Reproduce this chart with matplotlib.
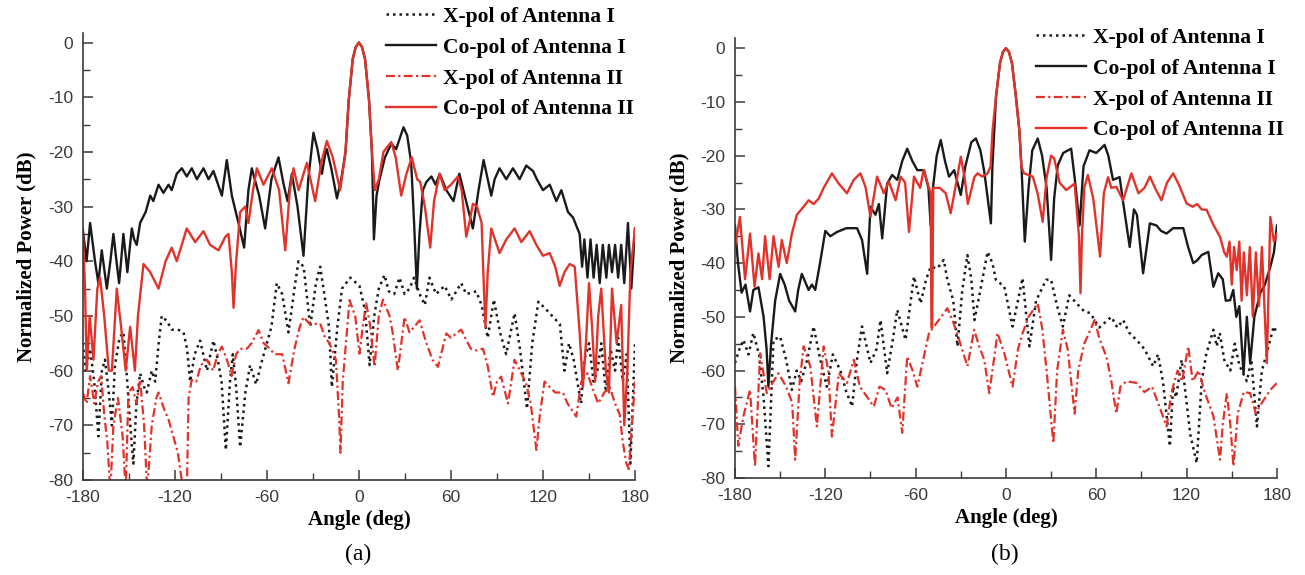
import numpy as np
import matplotlib
matplotlib.use("Agg")
import matplotlib.pyplot as plt
from matplotlib.ticker import MultipleLocator

plt.rcParams["axes.unicode_minus"] = False

# ---------------- data: panel (a) ----------------
a_co1_ang = [-180,-177.5,-175.2,-172,-169.8,-167.6,-164.3,-162,-160,-158,-156.3,-155,-153.5,-152,-150.9,-149.5,-148,-146.5,-144.8,-142.6,-139,-136,-134,-130.6,-127.4,-124.1,-122,-118.7,-115.4,-112.2,-108.9,-105.6,-101.3,-98,-94.8,-89.3,-86.1,-82.8,-78.5,-74.8,-72,-69.8,-65,-61.1,-57,-52.4,-49,-46.5,-43.7,-40,-36.1,-33,-29.6,-27,-24.1,-22,-20.9,-18,-14.3,-11.5,-8.7,-6.6,-4,-2,0,2,4,6.6,8.5,9.8,11.5,13.5,17,21.1,24.3,29.1,31.5,34.1,36,37.8,39.5,41.7,44,47.3,50,52.7,57,61.7,65.5,69,74.3,78,81.3,86.3,88.5,91.7,96.1,100.4,104.8,109.1,113.5,116,120,124.4,128.7,132,136.3,139.6,143.9,145.5,147,149,151,153,155,157,159,161.3,163,165,167,169,171,173,175.4,177.6,180]
a_co1_db = [-34,-40,-33,-40,-44,-38,-45,-40,-35,-40,-44,-40,-35,-39,-42,-38,-34,-36,-37,-33,-31,-28,-29,-26,-27.5,-26,-27,-24,-23,-24.5,-23,-25,-23,-25,-23.5,-28,-21.5,-28,-33,-37.5,-27,-23,-28,-34,-25,-21,-26,-29,-24,-30,-39,-25,-16.5,-19.5,-24,-20.5,-19.5,-23,-28.5,-25,-20,-10.5,-3,-0.8,0,-0.8,-3,-10.5,-20,-36,-28,-25,-21,-18.5,-19.5,-15.5,-17,-22,-33,-45,-35,-27,-25.5,-24.5,-26,-24,-27,-29,-24,-28,-34,-27,-21.5,-28,-25,-23,-25,-23,-25,-22.5,-23.5,-25,-27,-26,-29,-27,-31,-32,-35,-41,-36,-43,-36,-43,-37,-44,-37,-43,-37,-42,-37,-43,-37,-44,-33,-45,-34]

a_co2_ang = [-180,-178.5,-177.4,-175.5,-173,-170.5,-168.7,-166,-163,-161,-157.8,-155,-152,-149.1,-146,-144,-140.4,-136,-130.6,-126,-122,-118.7,-112.2,-106.7,-101.3,-97,-91.5,-87,-85,-82.8,-81.7,-80,-77.4,-74.1,-72,-69,-66.5,-62.2,-56.7,-52,-48,-45,-42.6,-39.3,-33.9,-28.5,-24.5,-20.9,-17,-12.2,-8.7,-6.6,-4,-2,0,2,4,6.6,8.5,10.4,13,16,21.1,24,27.6,31,34.5,38,40,43,46.5,49,52.6,56,60,64.6,67,70,72,74.3,77,80,81.5,82.5,84,86.3,91.7,96.1,101.5,105.9,111.3,115.7,120,124.4,128,130.9,134,137.4,140.7,143.9,146,148,150,152,154,156,158,161,163,165,168,171,173,175,177,180]
a_co2_db = [-34,-45,-60,-50,-58,-45,-43,-50,-60,-60,-45,-52,-60,-52,-60,-50,-40.5,-42,-45,-40,-37.5,-40,-34,-36.5,-34.5,-37,-38,-35.5,-35,-42,-48.5,-40,-31,-30,-33,-27,-23,-26,-23,-27,-38,-27,-23,-27,-22,-29,-22,-18,-21,-27,-20,-10.5,-3,-0.8,0,-0.8,-3,-10.5,-20,-27,-25,-20,-18.2,-21,-28,-24,-21,-25,-25.5,-30,-37.5,-29,-24,-27,-26,-24.5,-27,-35.5,-33,-29.5,-30,-33,-45,-52,-42,-34,-38.5,-36,-34,-36.5,-34.5,-37,-39,-38.5,-41,-44.5,-42,-40.5,-41,-53,-63,-55,-44,-52,-62,-50,-45,-60,-64,-45,-55,-48,-70,-60,-42,-34]

a_x1_ang = [-180,-178,-175.2,-172.5,-169.8,-167.5,-165.5,-163,-161,-159,-156,-153.5,-151.5,-149,-147,-145,-142.6,-140,-138.3,-135,-132.8,-130.5,-128.5,-125,-122,-118,-114.3,-112,-110,-107,-103.5,-99,-94.8,-92,-89.5,-86.7,-84,-82.2,-80,-77.4,-74,-70.9,-67,-63,-60,-57,-53.5,-50,-45.9,-42,-39.4,-36,-31.7,-28,-25.2,-22,-19.5,-17.6,-14,-11,-5.6,0.4,4,7,10,13,16.7,19.5,23,26.5,29.8,33,36,39.6,43,46,50.3,55.9,60.3,66.7,70,76.5,80,84,88,92,96,101.5,105,109.6,113,117,121,126,131,134,137,140,144.8,147,150,153,155.5,158,161,164,167,169,172,174.6,177,180]
a_x1_db = [-55,-60,-56,-62,-72,-60,-58,-64,-70,-59,-54,-53,-60,-70,-77,-66,-60.5,-63,-64,-60,-62,-55,-50,-51,-52.5,-52.5,-53,-56,-62,-57,-54.5,-60,-54.5,-58,-62,-74.5,-62,-57,-63,-74,-64,-59,-62.5,-58,-55,-52,-44,-46,-53,-45,-40,-41,-52,-44,-41,-47,-52,-63,-52,-45,-43,-44.5,-49,-59,-50,-45,-42.5,-45.5,-46,-43,-46,-45,-43,-46,-48,-43,-46,-44.5,-47,-44,-46,-45.5,-48,-54,-47,-53,-57,-49.5,-56,-67,-55,-47.4,-48.5,-50,-51.5,-60,-55,-58,-66,-58,-55,-62,-60,-55,-64,-56,-60,-54,-62,-57,-77,-55]

a_x2_ang = [-180,-177.5,-175.2,-172.5,-170,-168,-166,-164,-162,-160,-157,-154,-152,-150.2,-147.5,-145,-142.6,-140,-138,-135,-132,-130.6,-127,-124,-121,-118,-116,-114.3,-112,-111,-109,-106,-103,-99,-95,-92,-89.3,-86,-83,-80,-77.4,-73,-70,-65.4,-62,-58,-55,-50,-45.9,-42,-38.5,-36.1,-32,-25.2,-22,-19.1,-15,-13,-12,-10.5,-6.1,-2.4,0.4,2.5,4.8,7.5,10.2,13,15.7,20,22,25.4,29.8,33,36,39.6,44,48,51.5,57,60,63.5,66.7,70,73,76.5,80.9,84.1,87.4,90,92.7,97.2,101.5,105,109,112,115.7,118,121,124.4,128,133,136,141.7,145,149,152,156,160,163.5,167,170,172,174.4,176,178,180]
a_x2_db = [-64,-66,-61,-66,-62,-61,-68,-73,-82,-70,-65,-72,-82,-64,-63,-66,-61.7,-70,-82,-70,-65,-64,-67,-69,-72,-75,-79,-82,-80,-65,-61.7,-62,-59,-58,-60,-57,-55.6,-58,-61,-57,-56,-56,-55,-52.6,-55,-56,-57,-57,-62.3,-56,-52,-50.2,-51.5,-51.4,-54,-55,-58,-67.8,-75,-62,-47.1,-50,-56.9,-52,-47.7,-52,-59.3,-50,-47,-50,-53,-60,-50.2,-53,-52,-50.8,-55,-58,-59.3,-53.2,-54,-53.2,-52.5,-54.4,-56,-56.3,-56,-59.3,-64.8,-62,-61.1,-66,-58,-60,-62.3,-66,-74.5,-68,-62,-63,-64,-64,-66,-68.4,-62,-60.5,-63,-66,-64,-63,-66,-68,-73,-77,-78,-70,-62]

# ---------------- data: panel (b) ----------------
b_co1_ang = [-180,-178,-175.6,-173,-170,-167.8,-164.4,-161,-159,-157.8,-156,-153.3,-150,-147,-144,-140,-138,-135.6,-131.1,-128.9,-126.7,-123.5,-120,-116.7,-112.2,-106,-98.9,-95.6,-92.2,-90,-86.7,-84.4,-82.2,-78.9,-75.6,-72.2,-68.9,-65.6,-62.2,-58.9,-54.4,-51.5,-50,-48.5,-46,-43.3,-40.5,-37.8,-34.4,-30,-27,-23,-20,-17,-14.4,-10,-9,-6.6,-4,-2,0,2,4,6.6,8.9,10.3,12.5,15,17.5,21.1,24,27,30,32,34.4,38,43.3,46,48.9,51.5,55.5,60,65.5,68,71.1,75.5,78,82.2,85,87,91.1,95.6,100,103,106.7,111,117.8,121,124.4,127,130,134.4,137.8,141,144,146,148.9,151,153,155,157.8,160,162.2,165,168.9,172,175.6,178,180]
b_co1_db = [-33,-40,-45.5,-44,-49,-45,-44.5,-50,-56,-63,-55,-47,-42,-44,-47,-49,-45,-42,-45,-44,-45,-40,-34,-35,-34.2,-33.5,-33.5,-35.7,-42,-29.5,-31,-29,-35.4,-25.2,-23.6,-24.5,-21,-18.7,-21,-22.7,-22.7,-26,-33,-26,-20,-17.1,-21,-23.9,-22.7,-27.3,-22,-17.5,-16.8,-19,-23,-32.6,-22,-9,-2.8,-0.7,0,-0.7,-2.8,-9,-15.3,-22,-36,-26,-19,-16.8,-20,-26,-39.4,-28,-21.8,-19.5,-18.7,-25,-33,-22,-19,-19.5,-18,-20,-24.5,-24,-29,-37,-30,-31,-41.9,-32.6,-33,-34,-34.5,-33.5,-33.5,-37,-40,-39.5,-38.5,-37.9,-44.4,-41.9,-43,-47,-46.9,-45,-50,-48,-60.5,-50,-58.6,-50,-45.6,-44,-40.7,-38,-33]

b_co2_ang = [-180,-176.7,-173.3,-170,-167,-164.4,-162,-160,-157,-154.4,-151,-148.9,-145.6,-142.2,-138.9,-134.4,-131.1,-127.8,-124.4,-121.1,-115.6,-111.1,-105.6,-101.1,-96.7,-93.3,-90,-85.6,-81.1,-77.8,-73.3,-70,-67,-64.4,-61.1,-57,-54.7,-50,-49.5,-49,-48.3,-44,-40,-36.7,-33,-30,-27.5,-25.3,-21,-18.9,-15.6,-12.2,-10.2,-8.9,-6.6,-4,-2,0,2,4,6.6,8.9,10.2,12,14,17.8,21,24.4,27,30,32,35.6,40,45.6,48.5,49.5,50.5,52,54.4,58,62.5,65,67.8,70,73.3,77.8,83.3,88,92,95.6,99,103.3,107,111.1,115,120,124,127,130,133.3,138,142.2,145,146.7,148.5,150,151.5,153.3,155,156.5,158,160,162,164,166,168,170,173.3,175.6,178,180]
b_co2_db = [-37,-31.4,-43,-34.5,-44.4,-38.2,-43,-35,-43,-35,-40.7,-35.7,-40,-34.5,-31,-29.5,-28.3,-29,-28,-26,-23.3,-25.2,-27,-24.5,-23.3,-25.8,-31.4,-23.9,-27,-24.8,-28.3,-23.9,-25,-34.2,-23.9,-26,-22.7,-27,-52,-52,-26,-26,-27,-30.7,-25,-20.2,-24,-29,-24,-23.3,-23.9,-23.3,-22,-15.3,-9,-2.8,-0.7,0,-0.7,-2.8,-9,-15.3,-22,-23.3,-23.5,-23.9,-27,-32.3,-24,-20,-20.5,-25,-26.4,-25.2,-35,-45.6,-35,-26,-23.6,-28,-38.8,-27,-24,-26,-25.8,-28.3,-23.3,-27,-26,-23.9,-26,-28.3,-25,-23.3,-25.5,-28.9,-29.5,-29,-30,-30.1,-33,-35.1,-38,-38.8,-36,-44,-37,-41.3,-36,-47,-38,-46,-37,-50,-38,-48,-37,-58.6,-31.4,-36,-34.5]

b_x1_ang = [-180,-177,-174.4,-171,-167.8,-164,-161,-157.8,-155.5,-154.4,-150,-146,-142.2,-139,-136,-132,-127.8,-123.3,-119,-115,-110,-106,-102.2,-99,-95.6,-90,-86,-83.3,-78.9,-75,-72.2,-66.7,-61.1,-56.7,-53,-50,-45.6,-41.3,-38.9,-35,-32.2,-29,-25.6,-23,-20.9,-17,-12.2,-9,-6.7,-1.1,4.4,11,15.6,20,26.7,30,34,37.8,42,47,52,56,62,66,70,74,77.8,82,86.7,92,97.8,101,104.4,108.9,111,113,116.7,120,122.5,126.7,130,133,137.8,140,142,145,149,152,155,160,163,166.7,170,173,177.8,180]
b_x1_db = [-58.6,-56,-54.3,-57,-53,-57,-65,-77.8,-62,-54.3,-53.7,-58,-63.6,-60,-62,-58,-51.8,-58,-63,-57,-60,-64,-66.7,-58,-51.8,-58.6,-56,-50.6,-60.5,-54,-48.7,-54.3,-42.5,-47.5,-43,-40.7,-41,-39.4,-43.1,-47,-55.5,-45,-38.5,-43,-50.6,-45,-37.9,-40,-43.1,-44.4,-51.8,-42.8,-55.5,-47,-43.1,-43.1,-48,-51.8,-46,-47.5,-49,-49.3,-52,-51,-50,-52,-50.6,-53,-54.3,-56,-59.2,-57,-62.3,-74.1,-63,-65,-58,-66,-72,-77.2,-62,-57,-52.4,-55.5,-53,-58,-60,-55,-59,-62,-58,-70.4,-60,-57,-51.8,-53]

b_x2_ang = [-180,-177.8,-174.4,-170,-166.7,-163.3,-158.9,-155,-151.1,-146,-142,-140,-137,-134.4,-130,-125.6,-121.1,-118,-115.6,-111,-105.6,-101.1,-97,-92,-87.8,-84,-80,-76,-72,-68.9,-65.6,-62,-58.9,-55,-51.1,-47.8,-43,-38.9,-35,-31.1,-25.6,-21.1,-17.8,-14.4,-11.1,-8,-5.6,-1.1,4.4,8,11.1,15,21.1,24,27,30,31.5,34,37.8,41,45.6,48,52,58.9,62,66.7,70,73.3,76,80,86.7,92,97,101,106.7,110,114,117,121.1,124,128,132,137.8,142.2,144,146.7,149,151.1,154,158,162.2,166,170,175.6,180]
b_x2_db = [-63,-74,-68.5,-63.6,-77.8,-56.8,-64.2,-62.3,-60.5,-63,-66,-76.6,-62,-55.5,-59.2,-70.4,-55.5,-60,-72.3,-60.5,-62.3,-58,-63,-65,-66.7,-63,-63.6,-67,-65,-71.6,-57.4,-60,-63,-58,-53,-51.8,-50,-48.4,-51,-54.3,-59.2,-52.4,-55.5,-58,-64.2,-58,-53,-56.8,-63,-56,-53,-50,-47.5,-52,-60,-69.2,-73.5,-60,-52.4,-56,-68,-60,-55,-50.6,-54,-57.4,-62,-68,-63,-62,-62.3,-64,-63,-66,-70.4,-64,-60,-62,-55.5,-62,-60,-64,-68.5,-76.6,-70,-64.2,-70,-77.8,-68,-64,-64.2,-68,-66,-63.6,-62.3]

legend_labels = ["X-pol of Antenna I", "Co-pol of Antenna I",
                 "X-pol of Antenna II", "Co-pol of Antenna II"]
x_ticks = [-180, -120, -60, 0, 60, 120, 180]
y_ticks = [0, -10, -20, -30, -40, -50, -60, -70, -80]
panel_labels = ["(a)", "(b)"]

# ---------------- style ----------------
BLACK = "#1a1a1a"
RED = "#e2332b"
TICKC = "#3a3a3a"
SERIF = ["Liberation Serif", "DejaVu Serif"]
SANS = ["Liberation Sans", "DejaVu Sans"]

fig = plt.figure(figsize=(13.05, 5.75), dpi=100)
ax_a = fig.add_axes([0.0634, 0.1652, 0.4232, 0.778])
ax_b = fig.add_axes([0.5632, 0.1687, 0.4153, 0.7652])

panels = [
    (ax_a, (a_x1_ang, a_x1_db), (a_co1_ang, a_co1_db), (a_x2_ang, a_x2_db), (a_co2_ang, a_co2_db), 1.8, (0.2958, 0.988)),
    (ax_b, (b_x1_ang, b_x1_db), (b_co1_ang, b_co1_db), (b_x2_ang, b_x2_db), (b_co2_ang, b_co2_db), 1.9, (0.7940, 0.9515)),
]

for i, (ax, x1, co1, x2, co2, ytop, leg_pos) in enumerate(panels):
    h1, = ax.plot(x1[0], x1[1], color=BLACK, lw=1.8, linestyle=(0, (1, 1.6)))
    h2, = ax.plot(co1[0], co1[1], color=BLACK, lw=1.7)
    h3, = ax.plot(x2[0], x2[1], color=RED, lw=1.6, linestyle=(0, (4, 1.5, 1, 1.5)))
    h4, = ax.plot(co2[0], co2[1], color=RED, lw=1.7)
    ax.set_xlim(-180, 180)
    ax.set_ylim(-80, ytop)
    ax.set_xticks(x_ticks)
    ax.set_yticks(y_ticks)
    ax.xaxis.set_minor_locator(MultipleLocator(30))
    ax.yaxis.set_minor_locator(MultipleLocator(5))
    for s in ("top", "right"):
        ax.spines[s].set_visible(False)
    for s in ("left", "bottom"):
        ax.spines[s].set_linewidth(1.2)
        ax.spines[s].set_color(TICKC)
    ax.tick_params(which="major", direction="in", length=7, width=1.1, color=TICKC,
                   labelsize=12.5, pad=7, labelcolor=TICKC)
    ax.tick_params(which="minor", direction="in", length=5, width=1.0, color=TICKC)
    for lab in ax.get_xticklabels() + ax.get_yticklabels():
        lab.set_family(SANS)
    ax.set_xlabel("Angle (deg)", family=SERIF, fontweight="bold", fontsize=15, labelpad=4)
    ax.set_ylabel("Normalized Power (dB)", family=SERIF, fontweight="bold", fontsize=15, labelpad=8)
    ax.legend([h1, h2, h3, h4], legend_labels, loc="upper left",
              bbox_to_anchor=leg_pos, bbox_transform=fig.transFigure,
              frameon=False, handlelength=2.3, handletextpad=0.35,
              labelspacing=0.5, borderpad=0.0, borderaxespad=0.0,
              prop={"family": SERIF, "weight": "bold", "size": 15.5})

fig.text(0.2745, 0.035, panel_labels[0], ha="center", va="center", family=SERIF, fontsize=17)
fig.text(0.770, 0.035, panel_labels[1], ha="center", va="center", family=SERIF, fontsize=17)

fig.savefig("out.png", dpi=100)
